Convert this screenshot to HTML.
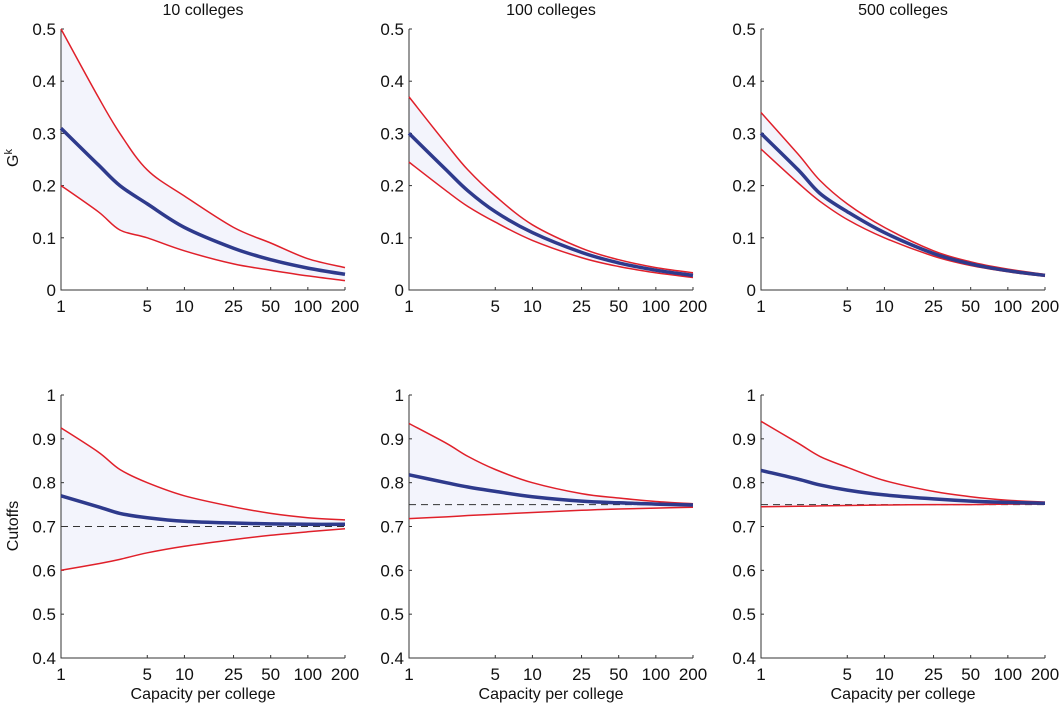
<!DOCTYPE html>
<html><head><meta charset="utf-8"><style>
body{margin:0;background:#fff}
svg text{font-family:"Liberation Sans",sans-serif;fill:#111}
</style></head><body>
<svg id="c" width="1060" height="704"></svg>
<script>
const xs=[1,2,3,5,10,25,50,100,200];
const titles=["10 colleges","100 colleges","500 colleges"];
const gUpper=[[0.5,0.37,0.30,0.23,0.18,0.12,0.09,0.06,0.043],[0.37,0.28,0.23,0.18,0.125,0.08,0.058,0.043,0.033],[0.34,0.26,0.21,0.165,0.12,0.075,0.054,0.04,0.03]];
const gMean=[[0.31,0.24,0.20,0.165,0.12,0.08,0.058,0.042,0.03],[0.30,0.23,0.19,0.15,0.11,0.072,0.052,0.038,0.028],[0.30,0.23,0.185,0.15,0.11,0.07,0.05,0.037,0.028]];
const gLower=[[0.2,0.15,0.115,0.1,0.075,0.05,0.038,0.027,0.018],[0.245,0.19,0.16,0.13,0.095,0.062,0.045,0.033,0.024],[0.27,0.205,0.17,0.135,0.1,0.065,0.047,0.035,0.026]];
const cUpper=[[0.925,0.87,0.83,0.8,0.77,0.745,0.73,0.72,0.715],[0.935,0.89,0.86,0.83,0.8,0.775,0.765,0.757,0.752],[0.94,0.89,0.86,0.835,0.805,0.78,0.768,0.76,0.756]];
const cMean=[[0.77,0.745,0.73,0.72,0.712,0.708,0.706,0.705,0.705],[0.818,0.8,0.79,0.78,0.768,0.758,0.754,0.751,0.749],[0.828,0.808,0.795,0.783,0.772,0.763,0.758,0.755,0.753]];
const cLower=[[0.6,0.615,0.625,0.64,0.655,0.67,0.68,0.688,0.695],[0.718,0.722,0.725,0.728,0.732,0.737,0.74,0.742,0.744],[0.745,0.746,0.747,0.748,0.749,0.75,0.75,0.751,0.751]];
const cRef=[0.7,0.75,0.75];
const xTicks=[1,5,10,25,50,100,200];
const gTicks=[0,0.1,0.2,0.3,0.4,0.5];
const cTicks=[0.4,0.5,0.6,0.7,0.8,0.9,1];
const NS="http://www.w3.org/2000/svg";
const svg=document.getElementById('c');
function el(t,a,p){const e=document.createElementNS(NS,t);for(const k in a)e.setAttribute(k,a[k]);(p||svg).appendChild(e);return e;}
const left=[61,409,761],W=284;
function xS(i,v){return left[i]+W*Math.log(v)/Math.log(200);}
function smooth(P){let d=`M${P[0][0].toFixed(1)},${P[0][1].toFixed(1)}`;
  for(let k=0;k<P.length-1;k++){const p0=P[Math.max(k-1,0)],p1=P[k],p2=P[k+1],p3=P[Math.min(k+2,P.length-1)];
    const c1=[p1[0]+(p2[0]-p0[0])/6,p1[1]+(p2[1]-p0[1])/6],c2=[p2[0]-(p3[0]-p1[0])/6,p2[1]-(p3[1]-p1[1])/6];
    d+=`C${c1[0].toFixed(1)},${c1[1].toFixed(1)} ${c2[0].toFixed(1)},${c2[1].toFixed(1)} ${p2[0].toFixed(1)},${p2[1].toFixed(1)}`;}
  return d;}
function panel(i,row){
  const top=row?395:29,bot=row?658:290,y0=row?0.4:0,y1=row?1:0.5;
  const yS=v=>bot-(v-y0)/(y1-y0)*(bot-top);
  const g=el('g',{});
  
  
  const P=a=>a.map((v,j)=>[xS(i,xs[j]),yS(v)]);
  const U=row?cUpper[i]:gUpper[i],M=row?cMean[i]:gMean[i],L=row?cLower[i]:gLower[i];
  const band=el('polygon',{points:P(U).concat(P(L).reverse()).map(p=>p.join(',')).join(' '),fill:'#f3f4fc'},g);
  
  const ax=el('path',{d:`M${left[i]},${top}V${bot}H${left[i]+W}`,fill:'none',stroke:'#333','stroke-width':1},g);
  
  xTicks.forEach(t=>{const x=xS(i,t);el('line',{x1:x,x2:x,y1:bot,y2:bot-3,stroke:'#333'},g);
    const tx=el('text',{x:x,y:bot+22,'text-anchor':'middle','font-size':17},g);tx.textContent=t;
    });
  (row?cTicks:gTicks).forEach(t=>{const y=yS(t);el('line',{x1:left[i],x2:left[i]+3,y1:y,y2:y,stroke:'#333'},g);
    const tx=el('text',{x:left[i]-5,y:y+6,'text-anchor':'end','font-size':17},g);tx.textContent=String(t);
    });
  if(row){const d=el('line',{x1:left[i],x2:left[i]+W,y1:yS(cRef[i]),y2:yS(cRef[i]),stroke:'#333','stroke-dasharray':'7,5'},g);
    }
  [[U,'upper-bound-line','#e0202a',1.5],[L,'lower-bound-line','#e0202a',1.5],[M,'mean-line','#2e3a8c',3.5]].forEach(([a,n,c,w])=>{
    const p=el('path',{d:smooth(P(a)),fill:'none',stroke:c,'stroke-width':w,'stroke-linejoin':'round'},g);
    });
  if(!row){const t=el('text',{x:left[i]+W/2,y:15,'text-anchor':'middle','font-size':16},g);t.textContent=titles[i];
    }
  else{const t=el('text',{x:left[i]+W/2,y:699,'text-anchor':'middle','font-size':16},g);t.textContent='Capacity per college';
    }
}
for(let i=0;i<3;i++){panel(i,0);panel(i,1);}
const yl=el('text',{x:0,y:0,'font-size':16,'text-anchor':'middle',transform:'translate(18,158) rotate(-90)'});
yl.innerHTML='G<tspan dy="-6" font-size="11">k</tspan>';

const y2=el('text',{x:0,y:0,'font-size':16,'text-anchor':'middle',transform:'translate(18,526) rotate(-90)'});
y2.textContent='Cutoffs';

</script>
</body></html>
